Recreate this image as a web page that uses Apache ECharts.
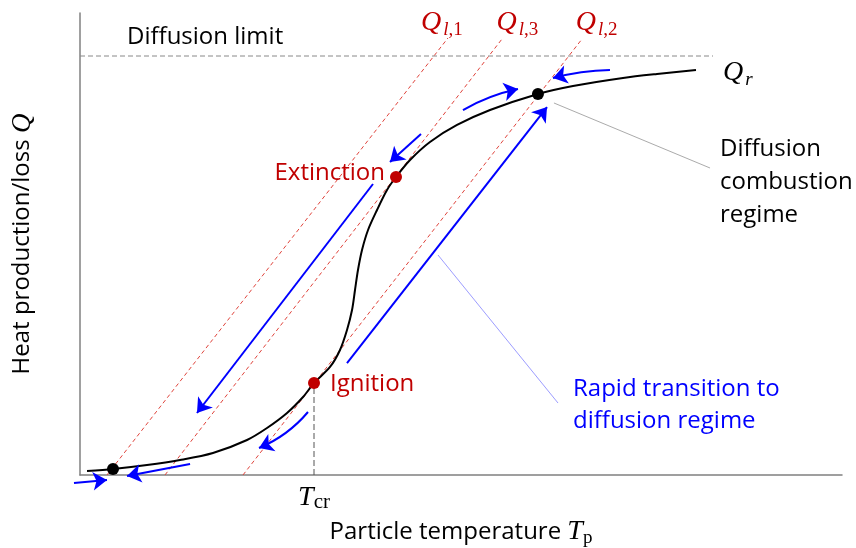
<!DOCTYPE html>
<html>
<head>
<meta charset="utf-8">
<script src="https://cdn.jsdelivr.net/npm/echarts@6/dist/echarts.min.js"></script>
<style>
  html, body { margin: 0; padding: 0; background: #fff; }
  #chart { width: 856px; height: 548px; }
</style>
</head>
<body>
<div id="chart"></div>
<script>
// Heat release curve Q_r(T_p): particle temperature vs heat production (arbitrary units)
const releaseT = [0.92, 4.33, 8.79, 13.12, 17.45, 21.92, 24.54, 27.17, 29.27, 30.71, 32.81, 34.12, 35.04, 35.7, 36.09, 36.48, 37.01, 37.8, 38.98, 40.29, 41.47, 43.31, 45.93, 49.48, 53.81, 60.1, 64.7, 71.26, 75.72, 80.84];
const releaseQ = [0.87, 1.3, 2.16, 3.25, 4.76, 7.58, 10.17, 13.42, 16.88, 19.91, 23.38, 27.06, 31.39, 35.71, 40.04, 44.37, 48.7, 53.03, 57.36, 61.69, 64.5, 68.18, 72.08, 75.76, 79.0, 82.47, 84.2, 85.93, 86.8, 87.66];

// Heat loss lines Q_l,i : T at Q=0, T and Q at the upper end
const lossNames = ['l,1', 'l,3', 'l,2'];
const lossStartT = [3.54, 11.15, 21.39];
const lossEndT = [48.29, 55.38, 65.88];
const lossEndQ = [94.59, 94.37, 94.37];
const lossLabelT = [47.5, 57.4, 67.8];

// Diffusion limit level
const diffusionLimit = 90.69;
const diffusionLimitEndT = 83.07;

// Operating points
const ignition = [30.71, 19.91];
const extinction = [41.47, 64.5];
const stablePoints = [[4.33, 1.3], [60.1, 82.47]];

// Critical temperature tick
const tickValues = [30.71];
const tickLabels = ['{i|T}{s|cr}'];

// Direction arrows: [fromT, fromQ, toT, toQ, curveness]
const arrowPaths = [
  [35.04, 24.24, 61.29, 79.65, 0],
  [38.45, 62.99, 15.35, 13.42, 0],
  [44.75, 73.81, 40.68, 67.75, 0],
  [29.92, 13.64, 23.49, 5.84, 0.12],
  [14.44, 2.38, 6.17, -0.22, 0],
  [-0.79, -1.73, 3.54, -1.08, 0],
  [50.26, 79.0, 57.48, 83.55, 0.08],
  [69.55, 87.66, 62.07, 85.93, -0.06]
];

// Leader lines for the annotations
const leaderGrey = [[62.2, 80.52], [82.68, 66.45]];
const leaderBlue = [[46.98, 47.62], [62.73, 15.58]];

const RED = '#c00000';
const BLUE = '#0000ff';
const TEXT_FONT = '"Open Sans", "Noto Sans", sans-serif';
const MATH_FONT = '"Liberation Serif", "DejaVu Serif", serif';

const chart = echarts.init(document.getElementById('chart'), null, { renderer: 'canvas' });

const mathRich = (color) => ({
  q: { fontFamily: MATH_FONT, fontStyle: 'italic', fontSize: 28, color: color },
  l: { fontFamily: MATH_FONT, fontStyle: 'italic', fontSize: 19, color: color, padding: [14, 0, 0, 2] },
  c: { fontFamily: MATH_FONT, fontSize: 19, color: color, padding: [14, 0, 0, 0] }
});

function textPoint(value, text, color, align, extra) {
  return {
    value: value,
    label: Object.assign({
      show: true,
      formatter: text,
      position: 'inside',
      align: align,
      verticalAlign: 'middle',
      color: color,
      fontFamily: TEXT_FONT,
      fontSize: 24
    }, extra || {})
  };
}

const option = {
  animation: false,
  backgroundColor: '#ffffff',
  grid: { left: 80, right: 14, top: 13, bottom: 73, containLabel: false, outerBoundsMode: 'none' },
  xAxis: {
    type: 'value', min: 0, max: 100,
    axisLine: { show: true, lineStyle: { color: '#808080', width: 1.5 } },
    axisTick: { show: false },
    splitLine: { show: false },
    axisLabel: {
      show: true,
      customValues: tickValues,
      margin: 7,
      formatter: (v) => tickLabels[tickValues.indexOf(v)] || '',
      rich: {
        i: { fontFamily: MATH_FONT, fontStyle: 'italic', fontSize: 28, color: '#000' },
        s: { fontFamily: MATH_FONT, fontSize: 21, color: '#000', padding: [10, 0, 0, 0] }
      }
    },
    name: 'Particle temperature {i|T}{s|p}',
    nameLocation: 'middle',
    nameGap: 38,
    nameTextStyle: {
      fontFamily: TEXT_FONT, fontSize: 24, color: '#000',
      rich: {
        i: { fontFamily: MATH_FONT, fontStyle: 'italic', fontSize: 28, color: '#000' },
        s: { fontFamily: MATH_FONT, fontSize: 19, color: '#000', padding: [12, 0, 0, 0] }
      }
    }
  },
  yAxis: {
    type: 'value', min: 0, max: 100,
    axisLine: { show: true, lineStyle: { color: '#808080', width: 1.5 } },
    axisTick: { show: false },
    splitLine: { show: false },
    axisLabel: { show: false },
    name: 'Heat production/loss {q|Q}',
    nameLocation: 'middle',
    nameGap: 44,
    nameTextStyle: {
      fontFamily: TEXT_FONT, fontSize: 24, color: '#000',
      rich: { q: { fontFamily: MATH_FONT, fontStyle: 'italic', fontSize: 27, color: '#000' } }
    }
  },
  series: [
    {
      name: 'Diffusion limit',
      type: 'line',
      data: [[0, diffusionLimit], [diffusionLimitEndT, diffusionLimit]],
      symbol: 'none',
      lineStyle: { color: '#888', width: 1, type: [5, 3] },
      z: 1
    },
    {
      name: 'Heat loss',
      type: 'lines',
      coordinateSystem: 'cartesian2d',
      clip: false,
      lineStyle: { color: '#e0443c', width: 1, type: [4, 3], opacity: 1 },
      data: lossNames.map((n, i) => ({ coords: [[lossStartT[i], 0], [lossEndT[i], lossEndQ[i]]] })),
      z: 2
    },
    {
      name: 'Critical temperature',
      type: 'line',
      data: [[ignition[0], 0], [ignition[0], ignition[1]]],
      symbol: 'none',
      lineStyle: { color: '#555', width: 1, type: [6, 3] },
      z: 2
    },
    {
      name: 'Heat release',
      type: 'line',
      data: releaseT.map((t, i) => [t, releaseQ[i]]),
      smooth: 0.3,
      symbol: 'none',
      lineStyle: { color: '#000', width: 2 },
      z: 3
    },
    {
      name: 'Leaders',
      type: 'lines',
      coordinateSystem: 'cartesian2d',
      clip: false,
      data: [
        { coords: leaderGrey, lineStyle: { color: '#555', width: 1 } },
        { coords: leaderBlue, lineStyle: { color: '#3a3aff', width: 1 } }
      ],
      z: 3
    },
    {
      name: 'Arrows',
      type: 'lines',
      coordinateSystem: 'cartesian2d',
      clip: false,
      symbol: ['none', 'arrow'],
      symbolSize: 14,
      lineStyle: { color: BLUE, width: 2, opacity: 1 },
      data: arrowPaths.map((a) => ({
        coords: [[a[0], a[1]], [a[2], a[3]]],
        lineStyle: { curveness: a[4] }
      })),
      z: 4
    },
    {
      name: 'States',
      type: 'scatter',
      symbolSize: 12,
      itemStyle: { opacity: 1 },
      data: [
        { value: stablePoints[0], itemStyle: { color: '#000' } },
        { value: stablePoints[1], itemStyle: { color: '#000' } },
        { value: ignition, itemStyle: { color: RED } },
        { value: extinction, itemStyle: { color: RED } }
      ],
      z: 5
    },
    {
      name: 'Annotations',
      type: 'scatter',
      symbolSize: 0,
      silent: true,
      clip: false,
      itemStyle: { opacity: 1 },
      data: [
        textPoint([6.17, 94.81], 'Diffusion limit', '#000', 'left'),
        textPoint([40.03, 65.4], 'Extinction', RED, 'right'),
        textPoint([32.81, 19.6], 'Ignition', RED, 'left'),
        textPoint([83.99, 63.3], 'Diffusion\ncombustion\nregime', '#000', 'left', { lineHeight: 33 }),
        textPoint([64.7, 15.1], 'Rapid transition to\ndiffusion regime', BLUE, 'left', { lineHeight: 32 }),
        textPoint([84.38, 87.0], '{q|Q}{l|r}', '#000', 'left', { rich: mathRich('#000') })
      ].concat(lossNames.map((n, i) => textPoint([lossLabelT[i], 97.9],
        '{q|Q}{l|l}{c|' + n.slice(1) + '}', RED, 'center', { rich: mathRich(RED) }))),
      z: 6
    }
  ]
};

chart.setOption(option);
</script>
</body>
</html>
